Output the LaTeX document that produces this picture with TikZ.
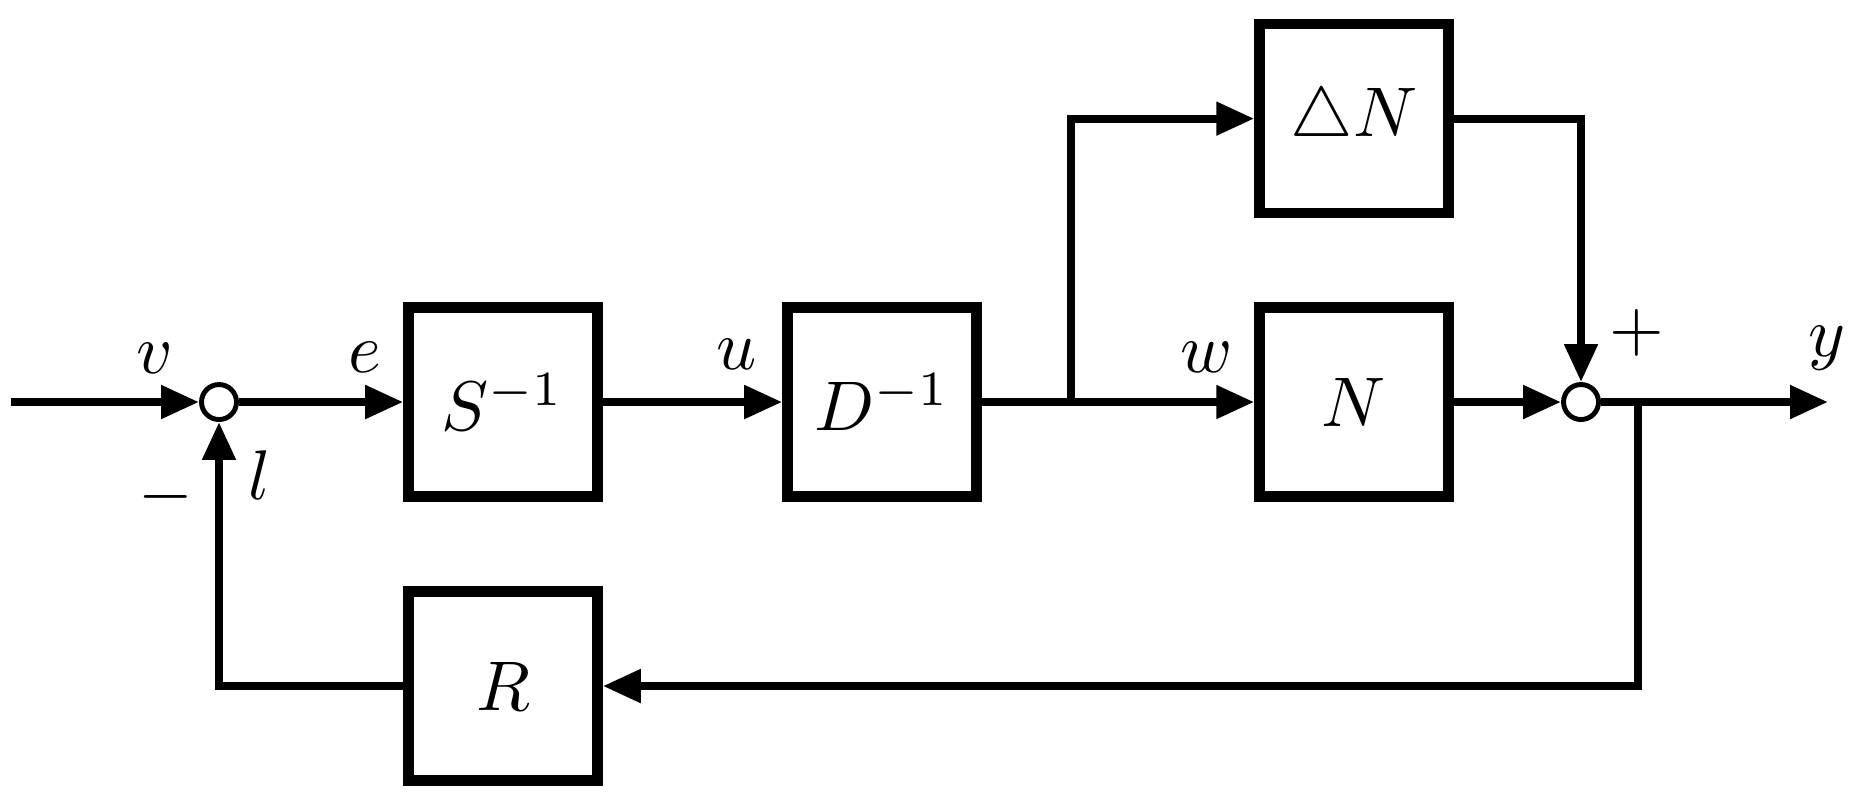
\documentclass[tikz,border=0pt]{standalone}
\usepackage{amsmath}
\usepackage{amssymb}
\usetikzlibrary{arrows.meta, calc}

\begin{document}
\begin{tikzpicture}[>={Triangle[length=1.9mm,width=1.6mm]},
  line width=1.15pt,
  block/.style={
    rectangle,
    draw,
    line width=1.5pt,
    inner sep=0pt,
    minimum width=0.945cm,
    minimum height=0.945cm
  },
  sum/.style={
    circle,
    draw,
    fill=white,
    line width=0.7pt,
    inner sep=0pt,
    minimum size=0.175cm
  },
  signal/.style={
    inner sep=0pt
  }
  ]

  \useasboundingbox (0,0) rectangle (9.275,-4);

  \pgfmathsetmacro{\ym}{-2.01}
  \pgfmathsetmacro{\yt}{-0.593}
  \pgfmathsetmacro{\yb}{-3.43}

  \node [sum] (sum1) at (1.095,\ym) {};
  \node [block] (inv) at (2.515,\ym) {$S^{-1}$};
  \node [block] (dinv) at (4.41,\ym) {$D^{-1}$};
  \node [block] (plant) at (6.77,\ym) {$N$};
  \node [block] (delta) at (6.77,\yt) {$\triangle N$};
  \node [sum] (sum2) at (7.905,\ym) {};
  \node [block] (fbk) at (2.515,\yb) {$R$};

  \coordinate (in) at (0.055,\ym);
  \coordinate (split) at (5.355,\ym);
  \coordinate (tap) at (8.19,\ym);
  \coordinate (out) at (9.14,\ym);

  \node [signal] (lv) at (0.775,-1.79) {$v$};
  \node [signal] (le) at (1.825,-1.785) {$e$};
  \node [signal] (lu) at (3.685,-1.77) {$u$};
  \node [signal] (lw) at (6.035,-1.785) {$w$};
  \node [signal] (ly) at (9.135,-1.74) {$y$};
  \node [signal] (lplus) at (8.185,-1.665) {$+$};
  \node [signal] (lminus) at (0.83,-2.485) {$-$};
  \node [signal] (ll) at (1.30,-2.375) {$l$};

  \draw [->] (in) -- (sum1);
  \draw [->] (sum1) -- (inv);
  \draw [->] (inv) -- (dinv);
  \draw (dinv) -- (split);
  \draw [->] (split) -- (plant);
  \draw [->] (split) |- (delta);
  \draw [->] (delta) -| (sum2);
  \draw [->] (plant) -- (sum2);
  \draw [->] (sum2) -- (out);

  \draw [->] (tap) |- (fbk);
  \draw [->] (fbk) -| (sum1);

\end{tikzpicture}
\end{document}
